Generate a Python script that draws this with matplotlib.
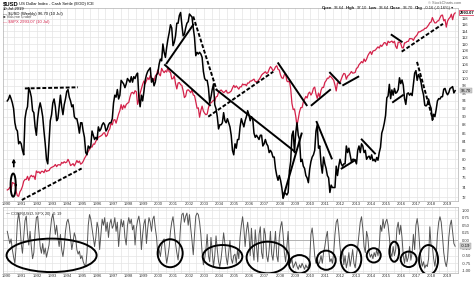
import numpy as np
import matplotlib
matplotlib.use("Agg")
import matplotlib.pyplot as plt
from matplotlib.patches import Ellipse

plt.rcParams["font.family"] = ["Liberation Sans", "DejaVu Sans"]

# monthly closes, Jan 1990 .. Jul 2019
usd = [
    94.0, 94.5, 95.5, 94.6, 93.5, 92.0, 88.5, 87.0, 86.5, 83.5, 84.0, 83.5,
    82.0, 81.0, 89.5, 91.5, 92.5, 97.5, 96.5, 95.0, 91.5, 91.0, 87.5, 85.5,
    89.5, 92.0, 93.5, 92.0, 90.0, 86.5, 83.5, 80.0, 79.0, 84.0, 89.0, 90.5,
    93.5, 94.5, 92.5, 89.0, 89.5, 92.5, 95.5, 92.5, 90.5, 93.0, 94.5, 96.5,
    97.0, 95.0, 94.0, 92.5, 93.0, 90.0, 89.5, 89.5, 88.0, 86.0, 88.5, 88.5,
    86.5, 85.0, 81.5, 81.0, 83.0, 82.5, 83.0, 86.5, 85.5, 84.5, 85.0, 84.5,
    87.5, 86.5, 87.0, 88.0, 88.5, 88.0, 86.5, 87.0, 88.0, 88.5, 88.5, 89.5,
    93.5, 95.5, 95.0, 97.0, 94.5, 95.5, 99.5, 99.0, 98.5, 97.5, 98.5, 100.0,
    99.5, 99.0, 100.5, 99.0, 100.5, 100.0, 101.0, 101.5, 95.0, 92.5, 95.5, 94.0,
    96.5, 99.5, 101.0, 102.0, 102.5, 103.0, 99.0, 100.0, 98.0, 99.0, 101.0, 101.5,
    104.0, 105.5, 105.0, 110.0, 107.5, 106.0, 109.0, 111.5, 113.5, 116.0, 115.0, 109.5,
    110.5, 112.5, 116.5, 116.5, 119.0, 120.0, 116.0, 112.5, 113.0, 115.0, 116.5, 117.0,
    119.5, 119.0, 118.5, 115.0, 112.0, 106.5, 107.5, 107.0, 107.5, 107.0, 106.0, 102.0,
    100.0, 99.5, 99.5, 97.5, 93.5, 95.0, 97.0, 98.5, 93.0, 92.0, 90.0, 87.0,
    88.0, 88.0, 88.5, 91.0, 89.0, 88.5, 89.5, 88.5, 87.5, 85.5, 82.0, 81.0,
    83.5, 82.5, 84.5, 84.5, 87.5, 89.5, 88.5, 87.5, 89.0, 90.0, 91.5, 90.5,
    89.0, 90.0, 89.5, 86.0, 85.0, 85.5, 85.0, 84.5, 85.5, 85.5, 83.0, 83.5,
    84.5, 83.5, 83.0, 81.5, 82.0, 81.5, 80.5, 80.5, 78.0, 76.5, 75.5, 76.5,
    75.5, 74.0, 71.8, 73.0, 72.8, 72.5, 73.0, 77.5, 79.5, 85.5, 86.5, 81.5,
    86.0, 88.5, 85.5, 84.5, 79.5, 80.0, 78.5, 78.0, 76.5, 76.0, 75.0, 77.8,
    79.5, 80.5, 81.0, 82.0, 86.5, 88.0, 82.5, 83.0, 79.0, 77.0, 80.5, 79.0,
    78.0, 76.5, 76.0, 73.0, 74.5, 74.0, 74.0, 74.0, 78.5, 76.5, 78.5, 80.0,
    79.0, 78.5, 79.0, 79.0, 83.0, 81.5, 82.5, 81.0, 79.5, 80.0, 80.0, 79.8,
    79.0, 82.0, 83.0, 81.5, 83.5, 83.0, 81.5, 82.0, 80.0, 80.5, 80.7, 80.0,
    81.0, 79.7, 80.0, 79.5, 80.4, 79.8, 81.5, 82.7, 86.0, 87.0, 88.4, 90.3,
    94.8, 95.3, 98.4, 94.6, 96.9, 95.5, 97.3, 96.0, 96.3, 97.0, 100.2, 98.6,
    99.6, 98.2, 94.6, 93.1, 95.9, 96.1, 95.5, 96.0, 95.4, 98.4, 101.5, 102.2,
    99.5, 101.1, 100.4, 99.0, 97.0, 95.6, 92.9, 92.7, 93.1, 94.5, 93.0, 92.1,
    89.1, 90.6, 90.0, 91.8, 94.0, 94.6, 94.5, 95.1, 95.1, 97.1, 97.3, 96.2,
    95.6, 96.2, 97.3, 97.5, 97.8, 96.1, 96.7,
]

spx = [
    329, 332, 340, 331, 361, 358, 356, 323, 306, 304, 322, 330,
    344, 367, 375, 375, 390, 371, 387, 395, 388, 392, 375, 417,
    409, 413, 404, 415, 415, 408, 424, 414, 418, 419, 431, 436,
    439, 443, 452, 440, 450, 451, 448, 464, 459, 468, 462, 466,
    482, 467, 446, 451, 457, 444, 458, 475, 463, 472, 454, 459,
    470, 487, 501, 515, 533, 545, 562, 562, 584, 582, 605, 616,
    636, 640, 646, 654, 669, 671, 640, 652, 687, 705, 757, 741,
    786, 791, 757, 801, 848, 885, 954, 899, 947, 915, 955, 970,
    980, 1049, 1102, 1112, 1091, 1134, 1121, 957, 1017, 1099, 1164, 1229,
    1280, 1238, 1286, 1335, 1302, 1373, 1329, 1320, 1283, 1363, 1389, 1469,
    1394, 1366, 1499, 1452, 1421, 1455, 1431, 1518, 1437, 1429, 1315, 1320,
    1366, 1240, 1160, 1249, 1256, 1224, 1211, 1134, 1041, 1060, 1139, 1148,
    1130, 1107, 1147, 1076, 1067, 990, 912, 916, 815, 886, 936, 880,
    856, 841, 848, 917, 964, 975, 990, 1008, 996, 1051, 1058, 1112,
    1131, 1145, 1126, 1107, 1121, 1141, 1102, 1104, 1115, 1130, 1174, 1212,
    1181, 1204, 1181, 1157, 1192, 1191, 1234, 1220, 1229, 1207, 1249, 1248,
    1280, 1281, 1295, 1311, 1270, 1270, 1277, 1304, 1336, 1378, 1401, 1418,
    1438, 1407, 1421, 1482, 1531, 1503, 1455, 1474, 1527, 1549, 1481, 1468,
    1379, 1331, 1323, 1386, 1400, 1280, 1267, 1283, 1165, 969, 896, 903,
    826, 735, 798, 873, 919, 919, 987, 1021, 1057, 1036, 1096, 1115,
    1074, 1104, 1169, 1187, 1089, 1031, 1102, 1049, 1141, 1183, 1181, 1258,
    1286, 1327, 1326, 1364, 1345, 1321, 1292, 1219, 1131, 1253, 1247, 1258,
    1312, 1366, 1408, 1398, 1310, 1362, 1379, 1407, 1441, 1412, 1416, 1426,
    1498, 1515, 1569, 1598, 1631, 1606, 1686, 1633, 1682, 1757, 1806, 1848,
    1783, 1859, 1872, 1884, 1924, 1960, 1931, 2003, 1972, 2018, 2068, 2059,
    1995, 2105, 2068, 2086, 2107, 2063, 2104, 1972, 1920, 2079, 2080, 2044,
    1940, 1932, 2060, 2065, 2097, 2099, 2174, 2171, 2168, 2126, 2199, 2239,
    2279, 2364, 2363, 2384, 2412, 2423, 2470, 2472, 2519, 2575, 2648, 2674,
    2824, 2714, 2641, 2648, 2705, 2718, 2816, 2902, 2914, 2712, 2760, 2507,
    2704, 2784, 2834, 2946, 2752, 2942, 2993,
]

corr = [
    0.30, 0.10, -0.10, 0.05, -0.30, -0.55, -0.75, -0.20, 0.60, 0.90, 0.55, -0.10,
    -0.42, 0.10, 0.65, 0.80, 0.20, -0.15, 0.30, -0.20, -0.60, -0.40, 0.30, 0.75,
    0.80, 0.30, -0.20, -0.42, -0.10, -0.45, -0.25, -0.55, -0.35, -0.15, 0.30, 0.70,
    0.87, 0.60, 0.20, 0.50, 0.10, -0.20, 0.20, -0.30, -0.53, -0.20, 0.30, 0.60,
    0.70, 0.50, 0.10, -0.30, -0.05, 0.25, 0.10, -0.30, -0.45, -0.35, -0.60, -0.50,
    -0.70, -0.80, -0.86, -0.40, 0.50, 0.85, 0.70, 0.40, 0.10, -0.20, 0.10, 0.60,
    0.40, -0.30, 0.20, 0.70, 0.50, 0.75, 0.30, 0.60, 0.10, 0.55, 0.70, 0.40,
    0.50, 0.75, 0.30, 0.60, -0.20, 0.30, 0.70, 0.45, 0.65, 0.10, -0.15, 0.50,
    0.75, 0.55, 0.70, 0.35, 0.50, -0.15, 0.40, 0.65, 0.80, 0.50, -0.30, 0.20,
    0.55, 0.70, -0.10, 0.40, 0.75, 0.60, 0.30, 0.70, 0.80, 0.40, 0.10, -0.50,
    -0.30, -0.53, -0.20, 0.00, 0.05, -0.40, -0.75, -0.50, -0.20, 0.30, 0.60, 0.78,
    0.40, -0.10, -0.40, -0.64, -0.20, 0.50, 0.85, 0.90, 0.60, 0.80, 0.90, 0.50,
    0.85, 0.40, 0.00, -0.47, 0.20, 0.80, 0.90, 0.85, 0.60, 0.20, -0.40, -0.80,
    -0.60, -0.30, 0.20, -0.50, -0.70, 0.10, -0.40, -0.86, -0.50, 0.15, -0.30, -0.70,
    -0.86, -0.60, -0.20, 0.25, -0.10, -0.55, -0.80, -0.40, 0.00, -0.60, -0.75, -0.50,
    -0.45, -0.75, -0.30, -0.60, 0.10, 0.50, 0.78, 0.40, -0.20, 0.30, 0.60, 0.20,
    -0.50, 0.40, -0.30, -0.65, 0.35, -0.20, -0.70, 0.20, 0.45, -0.40, -0.60, 0.40,
    0.20, -0.50, -0.70, -0.30, 0.30, -0.45, -0.65, -0.20, 0.30, -0.50, -0.70, 0.10,
    0.45, 0.62, 0.20, -0.40, -0.70, -0.20, 0.30, -0.55, -0.75, -0.60, -0.90, -0.80,
    -0.70, -0.85, -0.95, -0.80, -0.90, -0.75, -0.85, -0.95, -0.80, -0.90, -0.85, -0.70,
    0.20, 0.41, 0.00, -0.50, -0.75, -0.60, -0.80, -0.70, -0.50, -0.75, -0.40, -0.20,
    0.10, 0.30, -0.30, -0.70, -0.60, -0.75, -0.40, 0.20, 0.60, 0.70, 0.30, -0.20,
    -0.60, -0.30, -0.80, -0.50, -0.90, -0.70, -0.40, -0.85, -0.60, -0.30, -0.75, -0.90,
    -0.50, -0.20, 0.20, 0.60, 0.78, 0.40, -0.20, -0.40, 0.30, 0.10, -0.40, -0.55,
    -0.45, -0.60, -0.40, -0.53, -0.30, -0.50, -0.20, 0.50, 0.30, 0.70, 0.40, 0.60,
    0.70, 0.50, 0.10, -0.40, -0.53, -0.20, -0.50, -0.30, 0.40, 0.60, 0.20, 0.50,
    0.10, -0.50, -0.75, -0.40, -0.70, -0.55, -0.20, -0.65, -0.40, 0.20, -0.30, 0.50,
    0.72, 0.40, -0.20, -0.60, -0.85, -0.70, -0.91, -0.80, -0.86, -0.60, 0.45, -0.20,
    -0.20, -0.60, -0.85, -0.50, 0.20, 0.60, 0.78, 0.60, 0.13, -0.40, -0.70, -0.86,
    -0.60, 0.10, 0.50, 0.67, 0.30, -0.10, -0.19,
]

years = list(range(1990, 2020))
usd_ticks = list(range(72, 119, 2))
corr_ticks = [1.0, 0.75, 0.5, 0.25, 0.0, -0.25, -0.5, -0.75, -1.0]

# hand-drawn marks: ((year, usd), (year, usd), style)
trend_lines = [
    ((1991.2, 97.3), (1994.7, 97.6), "--"),
    ((1991.0, 71.5), (1994.94, 78.0), "--"),
    ((2000.54, 104.3), (2002.29, 116.0), "-"),
    ((2002.29, 118.7), (2003.83, 96.9), "--"),
    ((2000.43, 103.8), (2003.39, 92.9), "-"),
    ((2003.28, 90.0), (2007.56, 101.9), "--"),
    ((2003.83, 96.9), (2008.99, 81.7), "-"),
    ((2007.89, 104.3), (2009.76, 92.9), "-"),
    ((2008.22, 72.1), (2009.43, 85.9), "-"),
    ((2010.09, 92.9), (2011.30, 96.9), "-"),
    ((2011.30, 101.6), (2011.96, 98.7), "-"),
    ((2012.17, 98.2), (2013.16, 100.5), "-"),
    ((2010.42, 88.7), (2011.41, 80.2), "-"),
    ((2012.07, 78.0), (2012.95, 79.8), "-"),
    ((2013.39, 84.5), (2014.26, 81.3), "-"),
    ((2015.36, 112.8), (2016.02, 110.7), "-"),
    ((2016.02, 107.7), (2018.74, 116.3), "--"),
    ((2015.45, 93.7), (2016.10, 95.5), "-"),
    ((2017.03, 104.7), (2018.08, 89.2), "--"),
]
# (center year, center corr, width years, height corr)
corr_rings = [
    (1992.96, -0.49, 5.93, 1.10),
    (2000.77, -0.42, 1.65, 0.92),
    (2004.22, -0.53, 2.61, 0.76),
    (2007.20, -0.56, 2.79, 1.04),
    (2009.29, -0.78, 1.38, 0.60),
    (2011.05, -0.65, 1.25, 0.63),
    (2012.68, -0.61, 1.36, 0.93),
    (2014.18, -0.49, 0.92, 0.47),
    (2015.53, -0.37, 0.64, 0.66),
    (2016.48, -0.62, 1.05, 0.51),
    (2017.79, -0.64, 1.25, 0.98),
]

W, H = 474, 281
fig = plt.figure(figsize=(W / 100, H / 100), dpi=100)


def fx(x):
    return x / W


def fy(y):
    return 1 - y / H


t = 1990 + (np.arange(len(usd)) + 0.5) / 12
x0, x1 = 1989.76, 2019.73
grid_c = "#e4e4e4"
spine_c = "#b0b0b0"

ax = fig.add_axes([fx(3), fy(201), (458 - 3) / W, (201 - 8) / H])
axc = fig.add_axes([fx(3), fy(273), (458 - 3) / W, (273 - 207) / H])

# overlays first, so twinx does not move the main labels afterwards
ax2 = ax.twinx()
ax3 = ax.twinx()

ax.set_yscale("log")
ax.set_ylim(71.3, 121.5)
ax.set_yticks(usd_ticks)
ax.set_yticklabels([str(v) for v in usd_ticks])
ax.yaxis.set_minor_locator(matplotlib.ticker.NullLocator())

axc.set_ylim(-1.07, 1.10)
axc.set_yticks(corr_ticks)
axc.set_yticklabels(["%.2f" % v for v in corr_ticks])

for a in (ax, axc):
    a.set_xlim(x0, x1)
    a.set_xticks(years)
    a.set_xticks([y + 0.5 for y in years], minor=True)
    a.set_xticklabels([str(y) for y in years], fontsize=3, color="#333333")
    a.tick_params(axis="x", which="both", length=0, pad=0.8)
    a.grid(True, which="both", axis="x", color=grid_c, lw=0.5)
    a.grid(True, which="major", axis="y", color=grid_c, lw=0.5)
    a.yaxis.set_label_position("right")
    a.tick_params(axis="y", which="both", length=0, pad=2.5, labelsize=3,
                  labelcolor="#333333", left=False, labelleft=False,
                  right=True, labelright=True)
    for s in a.spines.values():
        s.set_color(spine_c)
        s.set_linewidth(0.5)
    a.set_axisbelow(True)

# S&P 500 overlay with its own log scale
ax2.set_yscale("log")
ax2.set_ylim(286.7, 3183)
ax2.axis("off")
ax2.plot(t, spx, color="#d4224a", lw=0.9, zorder=2)

ax3.set_yscale("log")
ax3.set_ylim(71.3, 121.5)
ax3.axis("off")
ax3.plot(t, usd, color="black", lw=1.1, zorder=3)
for (xa, ya), (xb, yb), ls in trend_lines:
    ax3.plot([xa, xb], [ya, yb], color="black", lw=1.4, ls=ls,
             dashes=(2, 1) if ls == "--" else (None, None), zorder=4)

# ring and arrow in the 1990 corner
th = np.linspace(0, 2 * np.pi, 100)
ring_y = np.exp(np.log(74.5) + 0.032 * np.sin(th))
ax3.plot(1990.43 + 0.17 * np.cos(th), ring_y, color="black", lw=1.4)
ax3.annotate("", xy=(1990.47, 80.8), xytext=(1990.47, 77.8),
             arrowprops=dict(arrowstyle="-|>", color="black", lw=1.2,
                             mutation_scale=4))

ax3.text(1.007, usd[-1], "%.2f" % usd[-1], transform=ax3.get_yaxis_transform(),
         fontsize=3, va="center", ha="left", color="black", zorder=10,
         bbox=dict(boxstyle="square,pad=0.2", fc="#cfcfcf", ec="#999999", lw=0.3))
ax2.text(1.004, spx[-1], "2993.07", transform=ax2.get_yaxis_transform(),
         fontsize=2.9, va="center", ha="left", color="black", weight="bold", zorder=10,
         bbox=dict(boxstyle="square,pad=0.12", fc="white", ec="#d4224a", lw=0.5))

# lower panel
axc.axhline(0, color="#aaaaaa", lw=0.6, zorder=1)
axc.plot(t, corr, color="#555555", lw=0.7, zorder=2)
for cx, cy, w, h in corr_rings:
    axc.add_patch(Ellipse((cx, cy), w, h, fill=False, ec="black", lw=1.4, zorder=5))
axc.text(1.007, corr[-1], "%.2f" % corr[-1], transform=axc.get_yaxis_transform(),
         fontsize=3, va="center", ha="left", color="black", zorder=10,
         bbox=dict(boxstyle="square,pad=0.2", fc="#cfcfcf", ec="#999999", lw=0.3))
axc.text(0.004, 0.95, "\u2014 CORR($USD,$SPX,20) -0.19", transform=axc.transAxes,
         fontsize=3, va="top", ha="left", color="#333333")

# header
fig.text(fx(3), fy(4), "$USD", fontsize=4.2, weight="bold", va="center")
fig.text(fx(19), fy(4), "US Dollar Index - Cash Settle (EOD) ICE", fontsize=3, va="center")
fig.text(fx(3), fy(8.5), "10-Jul-2019", fontsize=3, va="center")
fig.text(fx(3), fy(13.5), "\u2014 $USD (Weekly) 96.70 (10 Jul)", fontsize=3, va="center")
fig.text(fx(3), fy(17.5), "\u25a0 Volume undef", fontsize=3, va="center", color="#555555")
fig.text(fx(3), fy(21.5), "\u2014 $SPX 2993.07 (10 Jul)", fontsize=3, va="center",
         color="#d4224a")
fig.text(fx(461), fy(3.3), "\u00a9 StockCharts.com", fontsize=2.8, va="center",
         ha="right", color="#666666")

quote = [("Open", True), ("96.64", False), ("High", True), ("97.10", False),
         ("Low", True), ("96.64", False), ("Close", True), ("96.70", False),
         ("Chg", True), ("-0.16 (-0.16%) \u25be", False)]
renderer = fig.canvas.get_renderer()
xpos = 322.0
for s, b in quote:
    txt = fig.text(fx(xpos), fy(8), s, fontsize=3, va="center",
                   weight="bold" if b else "normal", color="#222222")
    xpos += txt.get_window_extent(renderer).width + 1.6

fig.savefig("out.png", dpi=100)
